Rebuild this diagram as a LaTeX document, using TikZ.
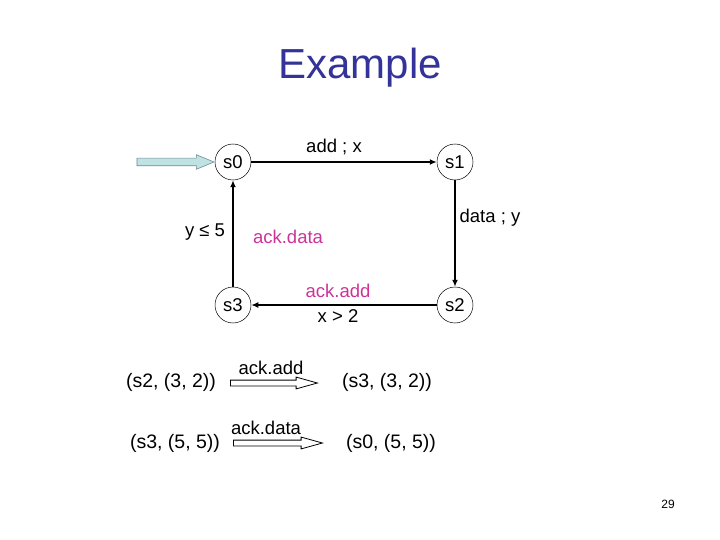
\documentclass[tikz,border=0pt]{standalone}
\usepackage{fontspec}
\setmainfont{Liberation Sans}
\usetikzlibrary{arrows.meta,shapes.arrows,positioning}
\definecolor{titleblue}{RGB}{51,51,153}
\definecolor{ackpink}{RGB}{204,51,153}
\definecolor{initfill}{RGB}{192,226,226}
\definecolor{initline}{RGB}{110,140,150}
\tikzset{
  state/.style={circle,draw,line width=0.5pt,minimum size=36pt,inner sep=0pt,font=\fontsize{18.5}{21}\selectfont},
  trans/.style={-{Latex[length=7pt,width=6pt]},line width=1.4pt},
  lbl/.style={font=\fontsize{18.5}{22}\selectfont},
  tuple/.style={font=\fontsize{19.5}{23}\selectfont},
  hollow/.style={single arrow,draw,fill=white,line width=0.8pt,inner sep=0pt,inner ysep=2.5pt,
    single arrow head extend=3pt,single arrow tip angle=31}
}
\begin{document}
\begin{tikzpicture}[x=1pt,y=-1pt]
\useasboundingbox (0,0) rectangle (720,540);
\node[font=\fontsize{42}{48}\selectfont,text=titleblue] (title) at (360,68) {Example};

\node[state] (s0) at (233,162) {s0};
\node[state] (s1) at (455,162) {s1};
\node[state] (s2) at (455,305) {s2};
\node[state] (s3) at (233,305) {s3};

\node[single arrow,draw=initline,fill=initfill,line width=0.6pt,inner sep=0pt,inner ysep=3.5pt,
  single arrow head extend=3.5pt,single arrow tip angle=45,minimum height=77pt,anchor=tip] (init) at (s0.west) {};

\draw[trans] (s0) -- (s1);
\draw[trans] (s1) -- (s2);
\draw[trans] (s2) -- (s3);
\draw[trans] (s3) -- (s0);

\node[lbl] (addx) at (334,147) {add ; x};
\node[lbl] (datay) at (490,218) {data ; y};
\node[lbl] (yle) at (205,232) {y ≤ 5};
\node[lbl,text=ackpink] (ackdata) at (288,237) {ack.data};
\node[lbl,text=ackpink] (ackadd) at (338,291) {ack.add};
\node[lbl] (xgt) at (338,316) {x > 2};

\node[tuple] (t1) at (171,382) {(s2, (3, 2))};
\node[hollow,minimum height=87pt,anchor=tail] (step1) at (230,383) {};
\node[lbl] (act1) at (271,368) {ack.add};
\node[tuple] (t2) at (387,382) {(s3, (3, 2))};

\node[tuple] (t3) at (175,443) {(s3, (5, 5))};
\node[hollow,minimum height=89pt,anchor=tail] (step2) at (233,443) {};
\node[lbl] (act2) at (266,428) {ack.data};
\node[tuple] (t4) at (391,443) {(s0, (5, 5))};

\node[font=\fontsize{12}{14}\selectfont] (page) at (668,504) {29};
\end{tikzpicture}
\end{document}
